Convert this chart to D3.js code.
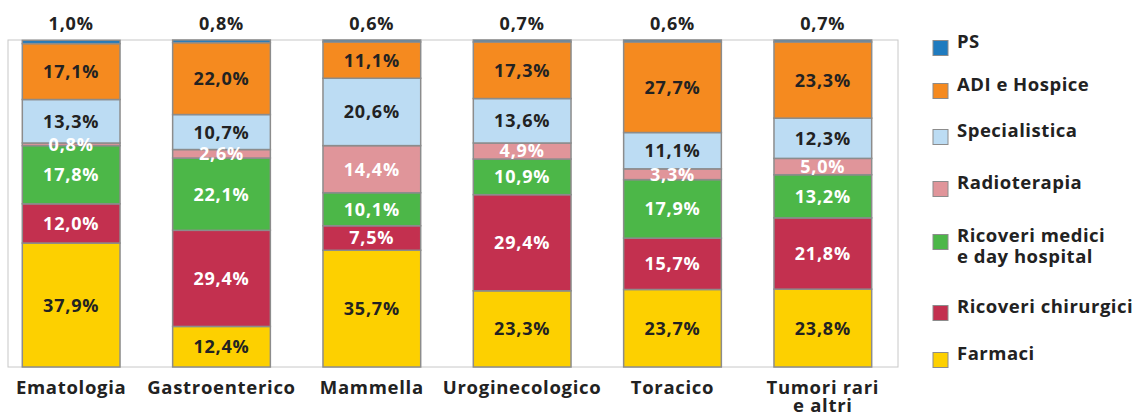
<!DOCTYPE html>
<html>
<head>
<meta charset="utf-8">
<script src="https://cdn.jsdelivr.net/npm/d3@7"></script>
<style>
  body { margin: 0; background: #fff; }
  svg text { font-family: "Open Sans", Lato, sans-serif; font-weight: 700; }
</style>
</head>
<body>
<div id="chart"></div>
<script>
const categories = ["Ematologia", "Gastroenterico", "Mammella", "Uroginecologico", "Toracico", "Tumori rari|e altri"];
// bottom to top
const seriesNames = ["Farmaci", "Ricoveri chirurgici", "Ricoveri medici|e day hospital", "Radioterapia", "Specialistica", "ADI e Hospice", "PS"];
const farmaci = [37.9, 12.4, 35.7, 23.3, 23.7, 23.8];
const chirurgici = [12.0, 29.4, 7.5, 29.4, 15.7, 21.8];
const medici = [17.8, 22.1, 10.1, 10.9, 17.9, 13.2];
const radioterapia = [0.8, 2.6, 14.4, 4.9, 3.3, 5.0];
const specialistica = [13.3, 10.7, 20.6, 13.6, 11.1, 12.3];
const adi = [17.1, 22.0, 11.1, 17.3, 27.7, 23.3];
const ps = [1.0, 0.8, 0.6, 0.7, 0.6, 0.7];
const seriesValues = [farmaci, chirurgici, medici, radioterapia, specialistica, adi, ps];
const colors = ["#fdd000", "#c3304f", "#4cb748", "#e0959a", "#bcdcf3", "#f58a1f", "#1f7bbf"];
const labelColors = ["#222", "#fff", "#fff", "#fff", "#222", "#222", "#222"];

const W = 1138, H = 416;
const plot = { left: 8, right: 898, top: 40, bottom: 367 };

const svg = d3.select("#chart").append("svg").attr("width", W).attr("height", H);

const x = d3.scaleBand().domain(categories).range([-4, 898]).paddingInner(0.35).paddingOuter(0.175);
const y = d3.scaleLinear().domain([0, 100]).range([plot.bottom, plot.top]);

const rows = categories.map((c, i) => {
  const r = { cat: c };
  seriesNames.forEach((s, j) => { r[s] = seriesValues[j][i]; });
  return r;
});
const stacked = d3.stack().keys(seriesNames)(rows);

// frame
svg.append("rect")
  .attr("x", plot.left).attr("y", plot.top)
  .attr("width", plot.right - plot.left).attr("height", plot.bottom - plot.top)
  .attr("fill", "none").attr("stroke", "#c8c8c8").attr("stroke-width", 1);

const layers = svg.append("g").selectAll("g")
  .data(stacked)
  .join("g")
  .attr("fill", (d, i) => colors[i]);

layers.selectAll("rect")
  .data(d => d)
  .join("rect")
  .attr("x", d => x(d.data.cat))
  .attr("width", x.bandwidth())
  .attr("y", d => Math.max(plot.top, y(d[1])))
  .attr("height", d => y(d[0]) - Math.max(plot.top, y(d[1])))
  .attr("stroke", "#8c8c8c")
  .attr("stroke-width", 1.5);

// segment labels (all but PS)
stacked.forEach((layer, i) => {
  if (i === 6) return;
  svg.append("g").selectAll("text")
    .data(layer)
    .join("text")
    .attr("x", d => x(d.data.cat) + x.bandwidth() / 2)
    .attr("y", d => (y(d[0]) + y(d[1])) / 2)
    .attr("dy", "0.36em")
    .attr("text-anchor", "middle")
    .attr("font-size", 18)
    .attr("letter-spacing", 0.8)
    .attr("fill", labelColors[i])
    .text(d => (d[1] - d[0]).toFixed(1).replace(".", ",") + "%");
});

// PS labels on top
svg.append("g").selectAll("text")
  .data(categories)
  .join("text")
  .attr("x", d => x(d) + x.bandwidth() / 2)
  .attr("y", 30)
  .attr("text-anchor", "middle")
  .attr("font-size", 18)
  .attr("letter-spacing", 0.8)
  .attr("fill", "#222")
  .text((d, i) => ps[i].toFixed(1).replace(".", ",") + "%");

// category labels
const catText = svg.append("g").selectAll("text")
  .data(categories)
  .join("text")
  .attr("x", d => x(d) + x.bandwidth() / 2)
  .attr("y", 394)
  .attr("text-anchor", "middle")
  .attr("font-size", 18.5)
  .attr("letter-spacing", 0.7)
  .attr("fill", "#222");
catText.selectAll("tspan")
  .data(d => d.split("|").map(t => ({ t, c: d })))
  .join("tspan")
  .attr("x", d => x(d.c) + x.bandwidth() / 2)
  .attr("dy", (d, i) => i === 0 ? 0 : 18)
  .text(d => d.t);

// legend
const legendY = [48, 91, 137, 189, 242, 313, 360];
const legendOrder = [6, 5, 4, 3, 2, 1, 0];
const legend = svg.append("g").selectAll("g")
  .data(legendOrder)
  .join("g")
  .attr("transform", (d, i) => `translate(933,${legendY[i]})`);
legend.append("rect")
  .attr("x", 0).attr("y", -7.5)
  .attr("width", 15).attr("height", 15)
  .attr("fill", d => colors[d])
  .attr("stroke", "#8c8c8c").attr("stroke-width", 1);
const lt = legend.append("text")
  .attr("x", 24).attr("y", 0).attr("dy", "0.36em")
  .attr("font-size", 18.5).attr("letter-spacing", 0.5).attr("fill", "#222");
lt.selectAll("tspan")
  .data(d => seriesNames[d].split("|"))
  .join("tspan")
  .attr("x", 24)
  .attr("dy", (d, i) => i === 0 ? 0 : 21)
  .text(d => d);
</script>
</body>
</html>
